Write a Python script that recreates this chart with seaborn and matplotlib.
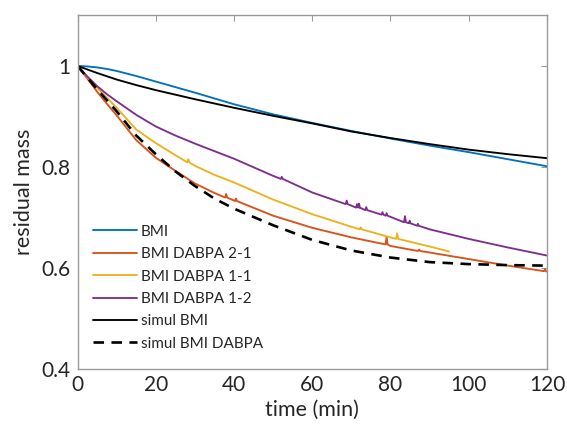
import matplotlib
matplotlib.use("Agg")
import matplotlib.pyplot as plt
import seaborn as sns
import pandas as pd

# ---------------- data ----------------
bmi_x = [0, 2.5, 5, 7.5, 10, 15, 20, 25, 30, 40, 50, 60, 70, 80, 90, 100, 110, 120]
bmi_y = [1.000, 0.999, 0.997, 0.994, 0.990, 0.980, 0.969, 0.958, 0.947, 0.924, 0.904, 0.887,
         0.871, 0.856, 0.842, 0.829, 0.815, 0.801]

d21_x = [0, 2.5, 5, 7.5, 10, 15, 20, 25, 30, 35, 37.75, 38, 38.25, 40, 40.25, 40.5, 40.75,
         50, 60, 70, 78.75, 79, 79.25, 80, 87, 87.3, 87.6, 90, 100, 110, 119.25, 119.5, 119.75, 120]
d21_y = [1.000, 0.975, 0.949, 0.925, 0.902, 0.853, 0.818, 0.792, 0.767, 0.748, 0.739, 0.746, 0.739,
         0.733, 0.732, 0.737, 0.732, 0.703, 0.679, 0.660, 0.646, 0.661, 0.646, 0.643, 0.633, 0.636,
         0.633, 0.630, 0.617, 0.604, 0.593, 0.597, 0.593, 0.592]

d11_x = [0, 2.5, 5, 7.5, 10, 15, 20, 25, 28.05, 28.3, 28.55, 30, 35, 40, 50, 60, 70,
         72.15, 72.4, 72.65, 80, 81.45, 81.7, 81.95, 90, 95]
d11_y = [1.000, 0.978, 0.957, 0.937, 0.917, 0.874, 0.847, 0.823, 0.809, 0.815, 0.809, 0.802,
         0.784, 0.769, 0.735, 0.706, 0.681, 0.676, 0.680, 0.676, 0.660, 0.657, 0.668, 0.657,
         0.642, 0.632]

d12_x = [0, 2.5, 5, 7.5, 10, 15, 20, 25, 30, 35, 40, 50, 51.95, 52.2, 52.45, 60,
         68.55, 68.8, 69.05, 71.2, 71.45, 71.7, 71.95, 72.2, 72.45, 73.55, 73.8, 74.05,
         77.7, 77.95, 78.2, 78.75, 79.0, 79.25, 83.45, 83.7, 83.95, 84.7, 84.9, 85.1,
         86.8, 87.0, 87.2, 90, 100, 110, 120]
d12_y = [1.000, 0.979, 0.960, 0.944, 0.930, 0.903, 0.880, 0.862, 0.846, 0.831, 0.816, 0.782,
         0.776, 0.780, 0.776, 0.749, 0.726, 0.733, 0.726, 0.719, 0.726, 0.719, 0.727, 0.718,
         0.718, 0.714, 0.720, 0.714, 0.705, 0.710, 0.705, 0.703, 0.708, 0.703, 0.690, 0.702,
         0.690, 0.688, 0.693, 0.688, 0.683, 0.687, 0.683, 0.676, 0.657, 0.640, 0.624]

sim_bmi_x = [0, 2.5, 5, 10, 15, 20, 25, 30, 40, 50, 60, 70, 80, 90, 100, 110, 120]
sim_bmi_y = [1.000, 0.993, 0.986, 0.973, 0.962, 0.952, 0.943, 0.934, 0.917, 0.901, 0.886,
             0.870, 0.857, 0.845, 0.834, 0.825, 0.817]

sim_dabpa_x = [0, 2.5, 5, 7.5, 10, 15, 20, 25, 30, 35, 40, 50, 60, 70, 80, 90, 100, 110, 120]
sim_dabpa_y = [1.000, 0.977, 0.954, 0.932, 0.910, 0.862, 0.825, 0.791, 0.762, 0.737, 0.717,
               0.684, 0.655, 0.634, 0.620, 0.611, 0.607, 0.605, 0.604]

series_names = ["BMI", "BMI DABPA 2-1", "BMI DABPA 1-1", "BMI DABPA 1-2",
                "simul BMI", "simul BMI DABPA"]
x_ticks = [0, 20, 40, 60, 80, 100, 120]
y_ticks = [0.4, 0.6, 0.8, 1.0]
y_tick_labels = ["0.4", "0.6", "0.8", "1"]

# ---------------- styling ----------------
sns.set_style("white")
plt.rcParams["font.family"] = ["Lato", "DejaVu Sans"]

colors = ["#0072BD", "#D95319", "#EDB120", "#7E2F8E", "#000000", "#000000"]
series = [(bmi_x, bmi_y), (d21_x, d21_y), (d11_x, d11_y), (d12_x, d12_y),
          (sim_bmi_x, sim_bmi_y), (sim_dabpa_x, sim_dabpa_y)]

fig = plt.figure(figsize=(5.67, 4.30), dpi=100)
ax = fig.add_axes([0.1367, 0.143, 0.828, 0.821])

for name, (xs, ys), c in zip(series_names, series, colors):
    df = pd.DataFrame({"t": xs, "m": ys})
    kw = dict(lw=1.35)
    if name == "simul BMI DABPA":
        kw = dict(lw=1.9, linestyle=(0, (4, 2.8)))
    sns.lineplot(data=df, x="t", y="m", ax=ax, color=c, label=name,
                 estimator=None, sort=False, **kw)

ax.set_xlim(0, 120)
ax.set_ylim(0.4, 1.1)
ax.set_xticks(x_ticks)
ax.set_yticks(y_ticks)
ax.set_yticklabels(y_tick_labels)

spine_c = "#9a9a9a"
for s in ax.spines.values():
    s.set_visible(True)
    s.set_color(spine_c)
    s.set_linewidth(1.0)
ax.tick_params(direction="in", top=True, right=True, length=4, width=0.8,
               color=spine_c, labelsize=15, labelcolor="#262626", pad=5)

ax.set_xlabel("time (min)", fontsize=15.5, color="#262626", labelpad=3)
ax.set_ylabel("residual mass", fontsize=15.5, color="#262626", labelpad=5)

leg = ax.legend(loc="upper left", bbox_to_anchor=(0.033, 0.407), frameon=False,
                fontsize=11, handlelength=2.88, handletextpad=0.26, labelspacing=0.55,
                borderpad=0, borderaxespad=0)
for t in leg.get_texts():
    t.set_color("#262626")

fig.savefig("out.png", dpi=100)
